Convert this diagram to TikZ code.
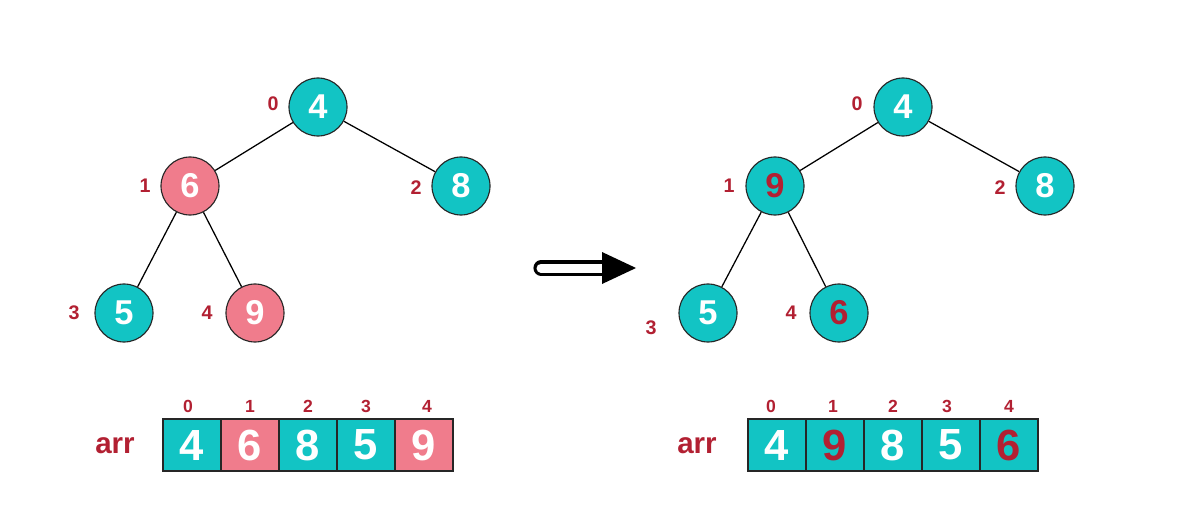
\documentclass[tikz,border=0pt]{standalone}
\usepackage{fontspec}
\setmainfont{Liberation Sans}
\usepackage{tikz}
\usetikzlibrary{arrows.meta, positioning, calc}

\definecolor{heapteal}{RGB}{18,196,196}
\definecolor{heappink}{RGB}{240,124,140}
\definecolor{heapred}{RGB}{178,32,50}

\begin{document}
\begin{tikzpicture}[
  x=0.025cm, y=-0.025cm,
  % Node styles
  key/.style    = {circle, draw=black!85, line width=0.8pt, fill=heapteal,
                   minimum size=1.45cm, inner sep=0pt,
                   font=\bfseries\fontsize{24.5}{26}\selectfont, text=white},
  hot/.style    = {key, fill=heappink},
  moved/.style  = {key, text=heapred},
  idx/.style    = {font=\bfseries\fontsize{14}{16}\selectfont, text=heapred},
  cell/.style   = {rectangle, draw=black!85, line width=0.8pt, fill=heapteal,
                   minimum width=1.45cm, minimum height=1.3cm, inner sep=0pt,
                   font=\bfseries\fontsize{31}{33}\selectfont, text=white},
  hotcell/.style= {cell, fill=heappink},
  movcell/.style= {cell, text=heapred},
  cidx/.style   = {font=\bfseries\fontsize{12.5}{14}\selectfont, text=heapred},
  arrlbl/.style = {font=\bfseries\fontsize{21}{23}\selectfont, text=heapred},
  % Arrow styles
  edge/.style   = {line width=0.9pt, black}
]
\useasboundingbox (0,0) rectangle (1189,512);

% =========================== BEFORE: TREE ===========================
\node[key] (A0) at (318,107) {4};
\node[hot] (A1) at (190,186) {6};
\node[key] (A2) at (461,186) {8};
\node[key] (A3) at (124,313) {5};
\node[hot] (A4) at (255,313) {9};

\node[idx] at (273,104) {0};
\node[idx] at (145,186) {1};
\node[idx] at (416,188) {2};
\node[idx] at (74,313)  {3};
\node[idx] at (207,313) {4};

\draw[edge] (A0) -- (A1);
\draw[edge] (A0) -- (A2);
\draw[edge] (A1) -- (A3);
\draw[edge] (A1) -- (A4);

% =========================== BEFORE: ARRAY ===========================
\node[arrlbl]  (La) at (115,446) {arr};
\node[cell]    (a0) at (192,445) {4};
\node[hotcell] (a1) at (250,445) {6};
\node[cell]    (a2) at (308,445) {8};
\node[cell]    (a3) at (366,445) {5};
\node[hotcell] (a4) at (424,445) {9};

\node[cidx] at (188,406) {0};
\node[cidx] at (250,406) {1};
\node[cidx] at (308,406) {2};
\node[cidx] at (366,406) {3};
\node[cidx] at (427,406) {4};

% =========================== ARROW ===========================
\coordinate (S0) at (541,268);
\coordinate (S1) at (604,268);
\coordinate (H1) at (602,252);
\coordinate (H2) at (636,268);
\coordinate (H3) at (602,284);
\draw[line width=2.2pt, double=white, double distance=6.4pt, line cap=round] (S0) -- (S1);
\fill[black] (H1) -- (H2) -- (H3) -- cycle;

% =========================== AFTER: TREE ===========================
\node[key]   (B0) at (903,107)  {4};
\node[moved] (B1) at (775,186)  {9};
\node[key]   (B2) at (1045,186) {8};
\node[key]   (B3) at (708,313)  {5};
\node[moved] (B4) at (839,313)  {6};

\node[idx] at (857,104)  {0};
\node[idx] at (729,186)  {1};
\node[idx] at (1000,188) {2};
\node[idx] at (651,328)  {3};
\node[idx] at (791,313)  {4};

\draw[edge] (B0) -- (B1);
\draw[edge] (B0) -- (B2);
\draw[edge] (B1) -- (B3);
\draw[edge] (B1) -- (B4);

% =========================== AFTER: ARRAY ===========================
\node[arrlbl]  (Lb) at (697,446)  {arr};
\node[cell]    (b0) at (777,445)  {4};
\node[movcell] (b1) at (835,445)  {9};
\node[cell]    (b2) at (893,445)  {8};
\node[cell]    (b3) at (951,445)  {5};
\node[movcell] (b4) at (1009,445) {6};

\node[cidx] at (771,406)  {0};
\node[cidx] at (833,406)  {1};
\node[cidx] at (893,406)  {2};
\node[cidx] at (947,406)  {3};
\node[cidx] at (1009,406) {4};

\end{tikzpicture}
\end{document}
